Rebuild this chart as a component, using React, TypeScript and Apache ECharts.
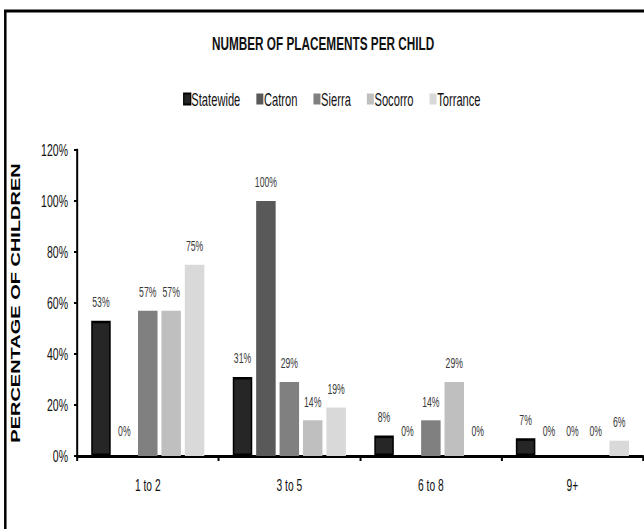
import React, { useEffect, useRef } from "react";
import * as echarts from "echarts";

const categories = ["1 to 2", "3 to 5", "6 to 8", "9+"];
const seriesNames = ["Statewide", "Catron", "Sierra", "Socorro", "Torrance"];
const statewide = [53, 31, 8, 7];
const catron = [0, 100, 0, 0];
const sierra = [57, 29, 14, 0];
const socorro = [57, 14, 29, 0];
const torrance = [75, 19, 0, 6];
const seriesValues = [statewide, catron, sierra, socorro, torrance];
const seriesColors = ["#262626", "#595959", "#808080", "#bfbfbf", "#d9d9d9"];

const titleText = "NUMBER OF PLACEMENTS PER CHILD";
const yAxisTitle = "PERCENTAGE OF CHILDREN";

const FONT = "'Liberation Sans', Arial, sans-serif";
// the reference's lettering is tall and narrow: the chart is laid out wider and squeezed horizontally
const C = 0.62;
const W = 644 / C;
const H = 529;
const X = (px: number) => px / C;

export default function App() {
  const ref = useRef<HTMLDivElement>(null);
  useEffect(() => {
    if (!ref.current) return;
    const chart = echarts.init(ref.current, null, { renderer: "svg" });
    const series = seriesNames.map((name, i) => ({
      name,
      type: "bar",
      barWidth: X(19.5),
      barGap: "20%",
      itemStyle: {
        color: seriesColors[i],
        borderColor: i === 0 ? "#000" : seriesColors[i],
        borderWidth: i === 0 ? 2.5 : 0,
      },
      label: {
        show: true,
        position: "top",
        distance: 12,
        fontFamily: FONT,
        fontSize: 14,
        color: "#3a3a3a",
        formatter: (p: any) => p.value + "%",
      },
      data: seriesValues[i].map((v) => ({
        value: v,
        label: { distance: v === 0 ? 18 : 12 },
      })),
    }));
    chart.setOption({
      animation: false,
      backgroundColor: "#fff",
      title: {
        text: titleText,
        left: X(320),
        textAlign: "center",
        top: 29,
        textStyle: { fontFamily: FONT, fontWeight: "bold", fontSize: 19, color: "#111" },
      },
      legend: {
        data: seriesNames.map((n, i) =>
          i === 0
            ? { name: n, itemStyle: { color: seriesColors[0], borderColor: "#000", borderWidth: 2 } }
            : { name: n }
        ),
        left: X(180),
        top: 85,
        itemWidth: X(7),
        itemHeight: 11,
        itemGap: X(16),
        icon: "rect",
        textStyle: { fontFamily: FONT, fontSize: 18, color: "#111", padding: [0, 0, 0, -4] },
      },
      grid: { left: X(77), right: X(1), top: 150, bottom: 73, containLabel: false },
      xAxis: {
        type: "category",
        data: categories,
        axisLine: { lineStyle: { color: "#000", width: 3 } },
        axisTick: { show: true, length: 5, lineStyle: { color: "#000", width: X(2) } },
        axisLabel: { fontFamily: FONT, fontSize: 16.5, color: "#111", margin: 21 },
      },
      yAxis: {
        type: "value",
        min: 0,
        max: 120,
        interval: 20,
        name: yAxisTitle,
        nameLocation: "middle",
        nameGap: X(61),
        nameRotate: 90,
        nameTextStyle: {
          fontFamily: FONT,
          fontWeight: "bold",
          fontSize: 20,
          color: "#000",
          verticalAlign: "middle",
        },
        axisLine: { show: true, lineStyle: { color: "#000", width: X(2) } },
        axisTick: { show: true, length: X(3), lineStyle: { color: "#000", width: 2 } },
        splitLine: { show: false },
        axisLabel: {
          fontFamily: FONT,
          fontSize: 17,
          color: "#111",
          margin: X(9),
          formatter: (v: number) => v + "%",
        },
      },
      graphic: [
        {
          type: "line",
          shape: { x1: X(4), y1: 11, x2: W + 10, y2: 11 },
          style: { stroke: "#000", lineWidth: 3 },
          silent: true,
        },
        {
          type: "line",
          shape: { x1: X(5.3), y1: 10, x2: X(5.3), y2: H + 10 },
          style: { stroke: "#000", lineWidth: X(2.5) },
          silent: true,
        },
      ],
      series,
    });
    return () => chart.dispose();
  }, []);
  return (
    <div
      style={{
        position: "absolute",
        left: 0,
        top: 0,
        width: 644,
        height: H,
        overflow: "hidden",
        background: "#fff",
      }}
    >
      <div
        ref={ref}
        style={{
          width: W,
          height: H,
          transform: `scaleX(${C})`,
          transformOrigin: "0 0",
        }}
      />
    </div>
  );
}
